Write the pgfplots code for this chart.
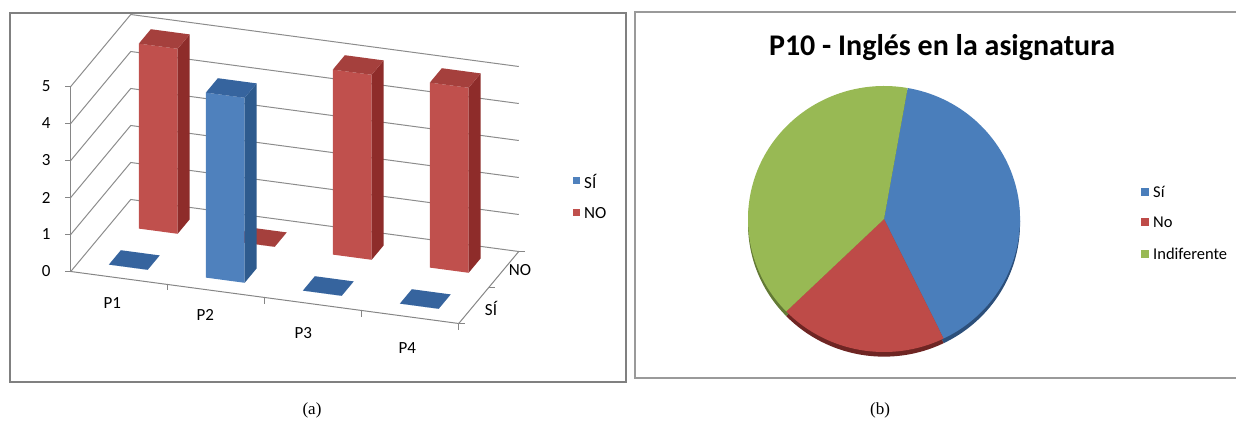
\documentclass[border=0pt]{standalone}
\usepackage{pgfplots}
\pgfplotsset{compat=1.18}
\usepackage{pgfplotstable}
\usepackage{fontspec}
\setmainfont{Carlito}
\newfontfamily\capfont{Liberation Serif}

\definecolor{redF}{HTML}{C0504D}
\definecolor{redS}{HTML}{8E2C2A}
\definecolor{redT}{HTML}{A5403D}
\definecolor{bluF}{HTML}{4F81BD}
\definecolor{bluS}{HTML}{2E5B8E}
\definecolor{bluT}{HTML}{36649E}
\definecolor{gridc}{HTML}{8C8C8C}
\definecolor{axc}{HTML}{868686}
\definecolor{frameC}{HTML}{808080}
\definecolor{pieB}{HTML}{4A7EBB}
\definecolor{pieR}{HTML}{BE4B48}
\definecolor{pieG}{HTML}{98B954}
\definecolor{pieBd}{HTML}{2C4F7A}
\definecolor{pieRd}{HTML}{6E2523}
\definecolor{pieGd}{HTML}{637A35}

% 3D column chart data (a)
\pgfplotstableread{
cat si no
P1 0 5
P2 5 0
P3 0 5
P4 0 5
}\bardata

% pie data (b)
\pgfplotstableread{
label value
Si 2
No 1
Indiferente 2
}\piedata

\pgfplotstablegetelem{0}{value}\of\piedata \let\pvA\pgfplotsretval
\pgfplotstablegetelem{1}{value}\of\piedata \let\pvB\pgfplotsretval
\pgfplotstablegetelem{2}{value}\of\piedata \let\pvC\pgfplotsretval
\pgfmathsetmacro\ptot{\pvA+\pvB+\pvC}
\pgfmathsetmacro\aA{80}
\pgfmathsetmacro\aB{\aA-360*\pvA/\ptot}
\pgfmathsetmacro\aC{\aB-360*\pvB/\ptot}
\pgfmathsetmacro\aD{\aC-360*\pvC/\ptot}

% one 3D column: #1 row, #2 column, #3 depth position, #4 colour prefix
\newcommand\drawbar[4]{%
  \pgfplotstablegetelem{#1}{#2}\of\bardata
  \pgfmathsetmacro\bh{\pgfplotsretval}%
  \pgfmathsetmacro\xl{#1-1.5-0.2}%
  \pgfmathsetmacro\xr{#1-1.5+0.2}%
  \pgfmathsetmacro\yf{#3-0.2}%
  \pgfmathsetmacro\yb{#3+0.2}%
  \addplot3[fill=#4F, draw=none] coordinates {(\xl,\yf,0) (\xr,\yf,0) (\xr,\yf,\bh) (\xl,\yf,\bh)};
  \addplot3[fill=#4S, draw=none] coordinates {(\xr,\yf,0) (\xr,\yb,0) (\xr,\yb,\bh) (\xr,\yf,\bh)};
  \addplot3[fill=#4T, draw=none] coordinates {(\xl,\yf,\bh) (\xr,\yf,\bh) (\xr,\yb,\bh) (\xl,\yb,\bh)};
}

\newcommand\lblfont{\fontsize{17}{20}\selectfont}

\begin{document}
\begin{tikzpicture}
\useasboundingbox (0pt,0pt) rectangle (1236pt,423pt);

% frames
\draw[frameC, line width=2pt] (10pt,41pt) rectangle (626pt,410pt);
\draw[frameC!80, line width=2.5pt] (635pt,45pt) rectangle (1250pt,411pt);

% ---------------- (a) 3D columns ----------------
\begin{axis}[
  at={(294.75pt,161.5pt)}, anchor=origin,
  x={(97pt,-13pt)}, y={(30pt,36pt)}, z={(0pt,37pt)},
  xmin=-2, xmax=2, ymin=-1, ymax=1, zmin=0, zmax=5,
  hide axis, clip=false,
]
\pgfplotsinvokeforeach{0,...,5}{
  \draw[gridc, line width=1pt] (axis cs:-2,-1,#1) -- (axis cs:-2,1,#1) -- (axis cs:2,1,#1);
}
% back row: NO
\drawbar{0}{no}{0.5}{red}
\drawbar{1}{no}{0.5}{red}
\drawbar{2}{no}{0.5}{red}
\drawbar{3}{no}{0.5}{red}
% front row: SI
\drawbar{0}{si}{-0.5}{blu}
\drawbar{1}{si}{-0.5}{blu}
\drawbar{2}{si}{-0.5}{blu}
\drawbar{3}{si}{-0.5}{blu}

% axes
\draw[axc, line width=1pt] (axis cs:-2,-1,0) -- (axis cs:-2,-1,5);
\pgfplotsinvokeforeach{0,...,5}{
  \draw[axc, line width=1pt] (axis cs:-2,-1,#1) -- ++(-6pt,0pt);
  \node[anchor=east, inner sep=0pt, xshift=-20pt, font=\lblfont] at (axis cs:-2,-1,#1) {#1};
}
\draw[axc, line width=1pt] (axis cs:-2,-1,0) -- (axis cs:2,-1,0);
\pgfplotsinvokeforeach{-1,0,1,2}{
  \draw[axc, line width=1pt] (axis cs:#1,-1,0) -- ++(0pt,-6pt);
}
\node[font=\lblfont, xshift=-7pt, yshift=-25pt] at (axis cs:-1.5,-1,0) {P1};
\node[font=\lblfont, xshift=-11pt, yshift=-24pt] at (axis cs:-0.5,-1,0) {P2};
\node[font=\lblfont, xshift=-10pt, yshift=-29pt] at (axis cs:0.5,-1,0) {P3};
\node[font=\lblfont, xshift=-3pt, yshift=-31pt] at (axis cs:1.5,-1,0) {P4};
\draw[axc, line width=1pt] (axis cs:2,-1,0) -- (axis cs:2,1,0);
\pgfplotsinvokeforeach{-1,0,1}{
  \draw[axc, line width=1pt] (axis cs:2,#1,0) -- ++(6pt,0pt);
}
\node[font=\lblfont, anchor=west, inner sep=0pt, xshift=11pt, yshift=-3pt] at (axis cs:2,-0.5,0) {SÍ};
\node[font=\lblfont, anchor=west, inner sep=0pt, xshift=5pt, yshift=-1pt] at (axis cs:2,0.5,0) {NO};
\end{axis}

% legend (a)
\fill[bluF] (573pt,238.5pt) rectangle (580pt,245.5pt);
\node[font=\lblfont, anchor=west, inner sep=0pt] at (584pt,242pt) {SÍ};
\fill[redF] (573pt,206.5pt) rectangle (580pt,213.5pt);
\node[font=\lblfont, anchor=west, inner sep=0pt] at (584pt,210pt) {NO};

% ---------------- (b) pie ----------------
\node[font=\bfseries\fontsize{30}{36}\selectfont, anchor=base] at (942pt,367pt) {P10 - Inglés en la asignatura};

\begin{axis}[
  at={(884pt,204pt)}, anchor=origin,
  x=136pt, y=133pt,
  xmin=-1, xmax=1, ymin=-1, ymax=1,
  hide axis, clip=false,
]
% rim (3D edge)
\fill[pieBd] (axis cs:0,-0.035) -- (axis cs:{cos(\aA)},{sin(\aA)-0.035}) arc[start angle=\aA, end angle=\aB, x radius=136pt, y radius=133pt] -- cycle;
\fill[pieRd] (axis cs:0,-0.035) -- (axis cs:{cos(\aB)},{sin(\aB)-0.035}) arc[start angle=\aB, end angle=\aC, x radius=136pt, y radius=133pt] -- cycle;
\fill[pieGd] (axis cs:0,-0.035) -- (axis cs:{cos(\aC)},{sin(\aC)-0.035}) arc[start angle=\aC, end angle=\aD, x radius=136pt, y radius=133pt] -- cycle;
% slices
\fill[pieB] (axis cs:0,0) -- (axis cs:{cos(\aA)},{sin(\aA)}) arc[start angle=\aA, end angle=\aB, x radius=136pt, y radius=133pt] -- cycle;
\fill[pieR] (axis cs:0,0) -- (axis cs:{cos(\aB)},{sin(\aB)}) arc[start angle=\aB, end angle=\aC, x radius=136pt, y radius=133pt] -- cycle;
\fill[pieG] (axis cs:0,0) -- (axis cs:{cos(\aC)},{sin(\aC)}) arc[start angle=\aC, end angle=\aD, x radius=136pt, y radius=133pt] -- cycle;
\end{axis}

% legend (b)
\fill[pieB] (1141pt,227pt) rectangle (1149pt,235pt);
\node[font=\fontsize{16.5}{19}\selectfont, anchor=west, inner sep=0pt] at (1153pt,231pt) {Sí};
\fill[pieR] (1141pt,197pt) rectangle (1149pt,205pt);
\node[font=\fontsize{16.5}{19}\selectfont, anchor=west, inner sep=0pt] at (1153pt,201pt) {No};
\fill[pieG] (1141pt,165pt) rectangle (1149pt,173pt);
\node[font=\fontsize{16.5}{19}\selectfont, anchor=west, inner sep=0pt] at (1153pt,169pt) {Indiferente};

% captions
\node[font=\capfont\fontsize{17}{20}\selectfont] at (312pt,13pt) {(a)};
\node[font=\capfont\fontsize{17}{20}\selectfont] at (880pt,13pt) {(b)};
\end{tikzpicture}
\end{document}
